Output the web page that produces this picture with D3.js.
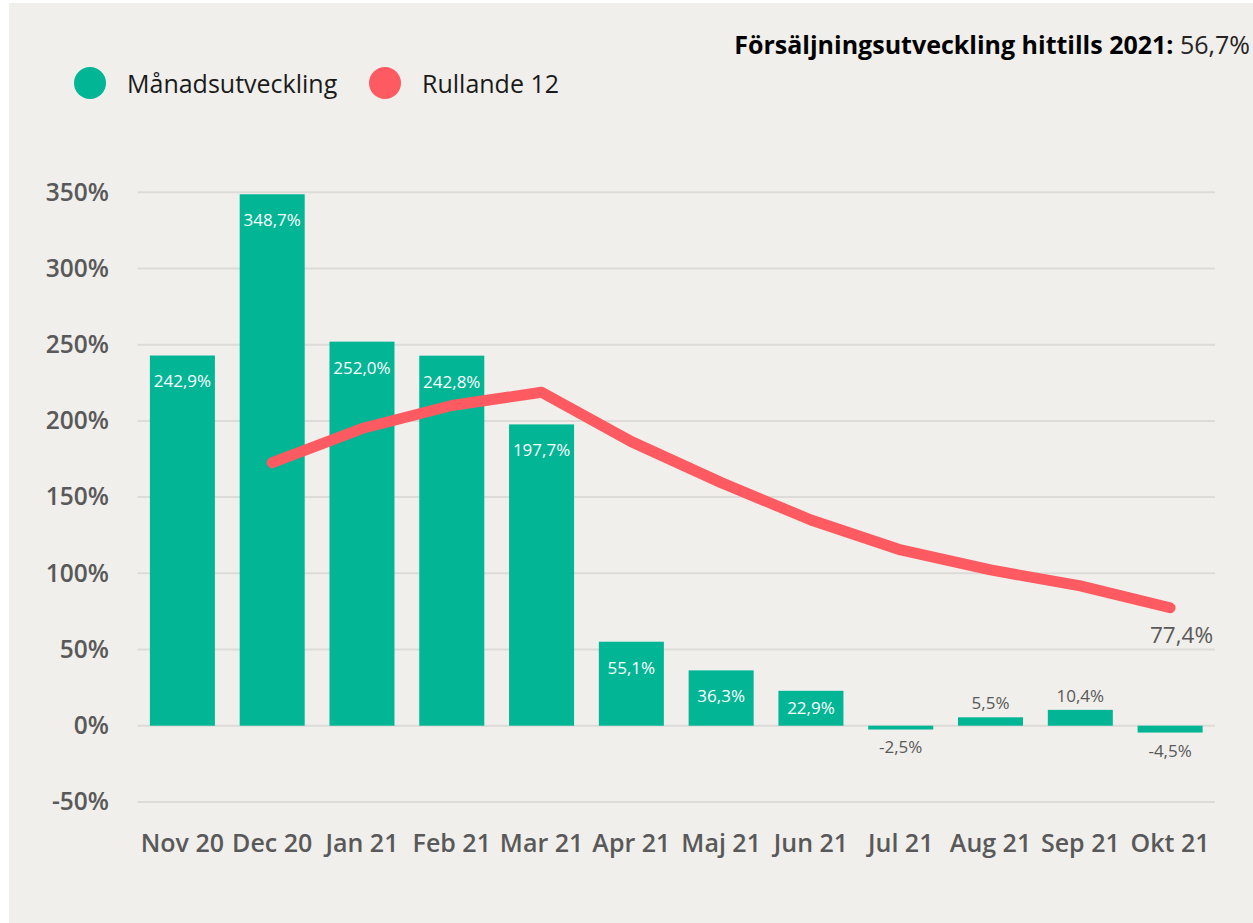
<!DOCTYPE html>
<html>
<head>
<meta charset="utf-8">
<script src="https://cdn.jsdelivr.net/npm/d3@7"></script>
<style>
  html, body { margin: 0; padding: 0; background: #ffffff; }
  svg { display: block; }
  text { font-family: "Open Sans", "Noto Sans", sans-serif; }
</style>
</head>
<body>
<svg id="chart" width="1253" height="923"></svg>
<script>
const months = ["Nov 20","Dec 20","Jan 21","Feb 21","Mar 21","Apr 21","Maj 21","Jun 21","Jul 21","Aug 21","Sep 21","Okt 21"];
const monthly = [242.9, 348.7, 252.0, 242.8, 197.7, 55.1, 36.3, 22.9, -2.5, 5.5, 10.4, -4.5];
const rolling12 = [null, 172.6, 195.0, 210.1, 218.8, 186.4, 159.5, 135.0, 115.3, 102.2, 91.7, 77.4];
const yTicks = [-50, 0, 50, 100, 150, 200, 250, 300, 350];
const seriesNames = ["Månadsutveckling", "Rullande 12"];
const titleBold = "Försäljningsutveckling hittills 2021:";
const titleValue = "56,7%";

const green = "#01b595";
const red = "#fd5b61";
const gray = "#595959";

const svg = d3.select("#chart");
const W = 1253, H = 923;

svg.append("rect").attr("x", 9).attr("y", 3).attr("width", W - 9).attr("height", H - 3).attr("fill", "#f0efeb");

const x = d3.scaleBand().domain(months).range([137.5, 1215]).paddingInner(0.276).paddingOuter(0.138);
const y = d3.scaleLinear().domain([-50, 350]).range([801.9, 192.3]);

const locale = d3.formatLocale({ decimal: ",", thousands: " ", grouping: [3], currency: ["", "%"], minus: "-" });
const fmt = v => locale.format(".1f")(v) + "%";

// gridlines
svg.append("g").selectAll("line").data(yTicks).join("line")
  .attr("x1", 137.5).attr("x2", 1215)
  .attr("y1", d => y(d)).attr("y2", d => y(d))
  .attr("stroke", "#dcdbd8").attr("stroke-width", 2);

// y axis labels
const yAxis = d3.axisLeft(y).tickValues(yTicks).tickFormat(d => d + "%").tickSize(0).tickPadding(0);
const yg = svg.append("g").attr("transform", "translate(109,0)").call(yAxis);
yg.select(".domain").remove();
yg.selectAll("text").attr("fill", gray).attr("font-size", 24.5).attr("font-weight", 600)
  .attr("font-family", "'Open Sans', sans-serif");

// x axis labels
const xAxis = d3.axisBottom(x).tickSize(0).tickPadding(0);
const xg = svg.append("g").attr("transform", "translate(0,834)").call(xAxis);
xg.select(".domain").remove();
xg.selectAll("text").attr("fill", gray).attr("font-size", 25).attr("font-weight", 600)
  .attr("font-family", "'Open Sans', sans-serif").attr("dy", "0.71em");

// bars
const data = months.map((m, i) => ({ m, v: monthly[i], r: rolling12[i] }));
svg.append("g").selectAll("rect").data(data).join("rect")
  .attr("x", d => x(d.m)).attr("width", x.bandwidth())
  .attr("y", d => y(Math.max(0, d.v)))
  .attr("height", d => Math.abs(y(d.v) - y(0)))
  .attr("fill", green);

// bar labels
svg.append("g").selectAll("text").data(data).join("text")
  .attr("x", d => x(d.m) + x.bandwidth() / 2)
  .attr("y", d => {
    if (d.v > 15) {
      const top = y(d.v), mid = (y(d.v) + y(0)) / 2;
      return Math.min(top + 26, mid);
    }
    if (d.v >= 0) return y(d.v) - 14;
    return y(d.v) + 18;
  })
  .attr("dy", "0.35em")
  .attr("text-anchor", "middle")
  .attr("font-size", 17)
  .attr("fill", d => d.v > 15 ? "#ffffff" : gray)
  .text(d => fmt(d.v));

// line
const lineData = data.filter(d => d.r !== null);
const line = d3.line().x(d => x(d.m) + x.bandwidth() / 2).y(d => y(d.r));
svg.append("path").datum(lineData)
  .attr("d", line)
  .attr("fill", "none").attr("stroke", red).attr("stroke-width", 11)
  .attr("stroke-linecap", "round").attr("stroke-linejoin", "round");

// last line value label
const last = lineData[lineData.length - 1];
svg.append("text")
  .attr("x", 1213).attr("y", y(last.r) + 35)
  .attr("text-anchor", "end").attr("font-size", 22.5).attr("fill", gray)
  .text(fmt(last.r));

// title
const t = svg.append("text").attr("x", 1250).attr("y", 54).attr("text-anchor", "end")
  .attr("font-size", 25).attr("fill", "#000");
t.append("tspan").attr("font-weight", 700).text(titleBold);
t.append("tspan").attr("font-weight", 400).attr("fill", "#252423").text(" " + titleValue);

// legend
const legendX = [90, 385];
const legendColors = [green, red];
const lg = svg.append("g");
seriesNames.forEach((n, i) => {
  lg.append("circle").attr("cx", legendX[i]).attr("cy", 83).attr("r", 16).attr("fill", legendColors[i]);
  lg.append("text").attr("x", legendX[i] + 37).attr("y", 93).attr("font-size", 25)
    .attr("fill", "#1a1a1a").text(n);
});
</script>
</body>
</html>
